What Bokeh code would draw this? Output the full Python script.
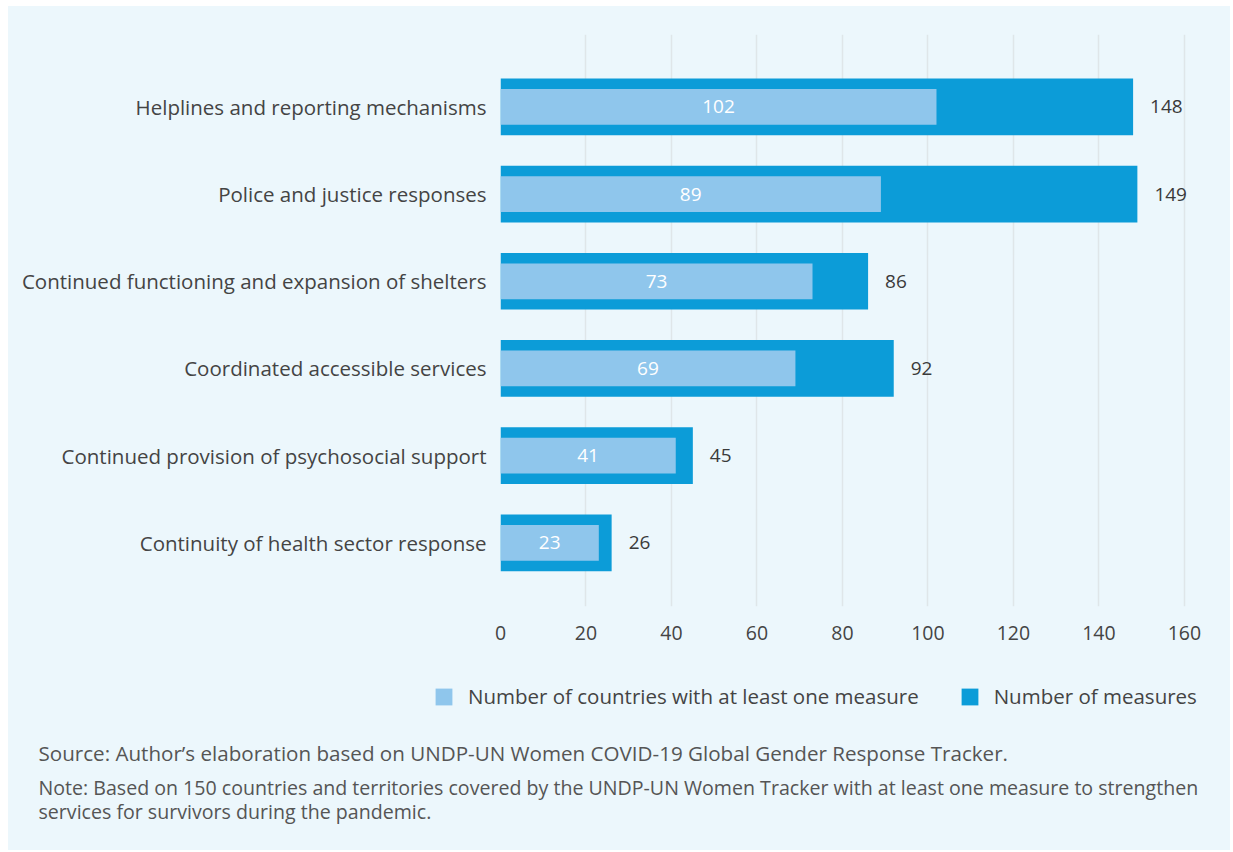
from bokeh.plotting import figure
from bokeh.layouts import column
from bokeh.models import (Range1d, FixedTicker, ColumnDataSource, Legend, LegendItem, Label)
from bokeh.core.properties import value
from bokeh.embed import file_html
from bokeh.resources import INLINE

categories = [
    "Helplines and reporting mechanisms",
    "Police and justice responses",
    "Continued functioning and expansion of shelters",
    "Coordinated accessible services",
    "Continued provision of psychosocial support",
    "Continuity of health sector response",
]
measures = [148, 149, 86, 92, 45, 26]
countries = [102, 89, 73, 69, 41, 23]
x_ticks = [0, 20, 40, 60, 80, 100, 120, 140, 160]
legend_labels = ["Number of countries with at least one measure", "Number of measures"]
source_text = "Source: Author\u2019s elaboration based on UNDP-UN Women COVID-19 Global Gender Response Tracker."
note_lines = [
    "Note: Based on 150 countries and territories covered by the UNDP-UN Women Tracker with at least one measure to strengthen",
    "services for survivors during the pandemic.",
]

BG = "#ECF7FC"
DARK = "#0C9CD8"
LIGHT = "#8FC6EC"
TXT = "#444444"
FONT = "Open Sans"
W = 1222

ypos = list(range(len(categories)))
src = ColumnDataSource(dict(
    y=ypos,
    measures=measures,
    countries=countries,
    half=[c / 2 for c in countries],
    mlab=[str(m) for m in measures],
    clab=[str(c) for c in countries],
))

p = figure(width=W, height=654, output_backend="svg", toolbar_location=None,
           x_range=Range1d(0, 163.3), y_range=Range1d(5.73, -0.83),
           min_border_left=492, min_border_right=32, min_border_top=28, min_border_bottom=54)
p.frame_align = False
p.background_fill_color = BG
p.border_fill_color = BG
p.outline_line_color = None

p.hbar(y="y", left=0, right="measures", height=0.65, source=src,
       fill_color=DARK, line_color=None)
p.hbar(y="y", left=0, right="countries", height=0.41, source=src,
       fill_color=LIGHT, line_color=None)

p.text(x="measures", y="y", text="mlab", source=src, x_offset=17,
       text_align="left", text_baseline="middle", text_font=value(FONT),
       text_font_size="19px", text_color="#3A3A3A")
p.text(x="half", y="y", text="clab", source=src,
       text_align="center", text_baseline="middle", text_font=value(FONT),
       text_font_size="19px", text_color="white")

p.xaxis.ticker = FixedTicker(ticks=x_ticks)
p.xaxis.axis_line_color = None
p.xaxis.major_tick_line_color = None
p.xaxis.minor_tick_line_color = None
p.xaxis.major_label_standoff = 13
p.xaxis.major_label_text_font = FONT
p.xaxis.major_label_text_font_size = "19.5px"
p.xaxis.major_label_text_color = TXT

p.yaxis.ticker = FixedTicker(ticks=ypos)
p.yaxis.major_label_overrides = {i: c for i, c in zip(ypos, categories)}
p.yaxis.axis_line_color = None
p.yaxis.major_tick_line_color = None
p.yaxis.minor_tick_line_color = None
p.yaxis.major_label_standoff = 8
p.yaxis.major_label_text_font = FONT
p.yaxis.major_label_text_font_size = "20.5px"
p.yaxis.major_label_text_color = TXT

p.xgrid.grid_line_color = "#DFE6E9"
p.xgrid.grid_line_width = 1.5
p.ygrid.grid_line_color = None

# footer: legend and notes
FH = 190
f = figure(width=W, height=FH, output_backend="svg", toolbar_location=None,
           x_range=Range1d(0, W), y_range=Range1d(0, FH),
           x_axis_type=None, y_axis_type=None, min_border=0)
f.frame_align = False
f.background_fill_color = BG
f.border_fill_color = BG
f.outline_line_color = None
f.grid.grid_line_color = None
# legend proxies (same data, hidden; only their swatches are shown in the legend)
lr_light = f.hbar(y="y", left=0, right="countries", height=0.41, source=src,
                  fill_color=LIGHT, line_color=None, visible=False)
lr_dark = f.hbar(y="y", left=0, right="measures", height=0.65, source=src,
                 fill_color=DARK, line_color=None, visible=False)

legend = Legend(items=[LegendItem(label=legend_labels[0], renderers=[lr_light], index=0),
                       LegendItem(label=legend_labels[1], renderers=[lr_dark], index=0)],
                orientation="horizontal", location=(425, 140),
                padding=0, margin=0, spacing=40, label_standoff=14,
                glyph_width=21, glyph_height=21, label_height=27,
                label_text_font=FONT, label_text_font_size="20.5px", label_text_color=TXT,
                background_fill_alpha=0, border_line_color=None)
f.add_layout(legend, "center")

lab_kw = dict(x_units="screen", y_units="screen", text_font=FONT,
              text_color="#555555", text_baseline="middle")
f.add_layout(Label(x=30, y=98, text=source_text, text_font_size="20.6px", **lab_kw))
f.add_layout(Label(x=30, y=63, text=note_lines[0], text_font_size="19.6px", **lab_kw))
f.add_layout(Label(x=30, y=39, text=note_lines[1], text_font_size="19.6px", **lab_kw))

layout = column(p, f, spacing=0, margin=(6, 0, 0, 8), styles={"background-color": BG})
open("out.html", "w").write(file_html(layout, INLINE))
